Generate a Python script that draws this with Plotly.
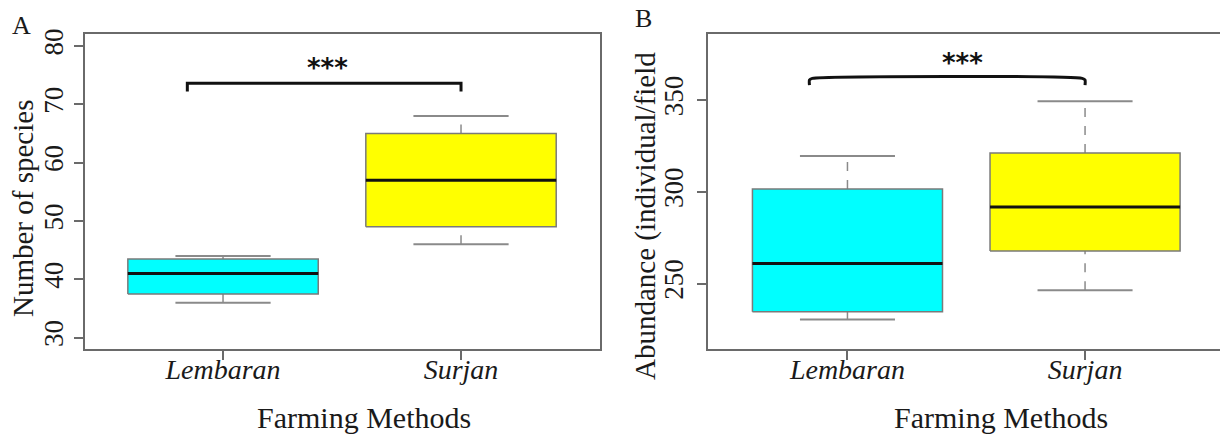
import plotly.graph_objects as go

# ---------------- data ----------------
categories = ["Lembaran", "Surjan"]

# Panel A: Number of species
a_lower = [36.0, 46.0]
a_q1 = [37.5, 49.0]
a_median = [41.0, 57.0]
a_q3 = [43.5, 65.0]
a_upper = [44.0, 68.0]
a_ticks = [30, 40, 50, 60, 70, 80]

# Panel B: Abundance (individual/field)
b_lower = [230.5, 246.4]
b_q1 = [234.7, 267.7]
b_median = [260.9, 291.7]
b_q3 = [301.5, 321.2]
b_upper = [319.5, 349.3]
b_ticks = [250, 300, 350]

signif_label = "***"

# ---------------- layout helpers ----------------
W, H = 1220, 434
def px(x): return x / W
def py(y): return 1 - y / H

BOX_HALF = 0.4
CAP_HALF = 0.2
fills = ["#00FFFF", "#FFFF00"]
SERIF = "Liberation Serif"
TXT = "#1a1a1a"

fig = go.Figure()

def add_boxes(xa, ya, lower, q1, med, q3, upper):
    pos = [1, 2]
    for i, p in enumerate(pos):
        # whiskers (dashed)
        fig.add_trace(go.Scatter(x=[p, p, None, p, p], y=[lower[i], q1[i], None, q3[i], upper[i]],
                                 mode="lines", line=dict(color="#8a8a8a", width=1.5, dash="dash"),
                                 xaxis=xa, yaxis=ya, showlegend=False, hoverinfo="skip"))
        # caps
        fig.add_trace(go.Scatter(x=[p - CAP_HALF, p + CAP_HALF, None, p - CAP_HALF, p + CAP_HALF],
                                 y=[lower[i], lower[i], None, upper[i], upper[i]],
                                 mode="lines", line=dict(color="#8a8a8a", width=2),
                                 xaxis=xa, yaxis=ya, showlegend=False, hoverinfo="skip"))
        # box body
        fig.add_trace(go.Scatter(x=[p - BOX_HALF, p + BOX_HALF, p + BOX_HALF, p - BOX_HALF, p - BOX_HALF],
                                 y=[q1[i], q1[i], q3[i], q3[i], q1[i]],
                                 mode="lines", fill="toself", fillcolor=fills[i],
                                 line=dict(color="#7a7a7a", width=1.5),
                                 xaxis=xa, yaxis=ya, showlegend=False, hoverinfo="skip"))
        # median
        fig.add_trace(go.Scatter(x=[p - BOX_HALF, p + BOX_HALF], y=[med[i], med[i]],
                                 mode="lines", line=dict(color="#111111", width=3),
                                 xaxis=xa, yaxis=ya, showlegend=False, hoverinfo="skip"))

add_boxes("x", "y", a_lower, a_q1, a_median, a_q3, a_upper)
add_boxes("x2", "y2", b_lower, b_q1, b_median, b_q3, b_upper)

# significance brackets
def add_bracket(xa, ya, x0, x1, ytop, ybot, smooth=False):
    if smooth:
        d = (ytop - ybot) * 0.25
        xs = [x0, x0, x0 + 0.012, x1 - 0.012, x1, x1]
        ys = [ybot, ytop - d, ytop, ytop, ytop - d, ybot]
        fig.add_trace(go.Scatter(x=xs, y=ys, mode="lines",
                                 line=dict(color="#111111", width=3, shape="spline", smoothing=0.6),
                                 xaxis=xa, yaxis=ya, showlegend=False, hoverinfo="skip"))
    else:
        fig.add_trace(go.Scatter(x=[x0, x0, x1, x1], y=[ybot, ytop, ytop, ybot], mode="lines",
                                 line=dict(color="#111111", width=3),
                                 xaxis=xa, yaxis=ya, showlegend=False, hoverinfo="skip"))

add_bracket("x", "y", 0.85, 2.0, 73.6, 72.2)
add_bracket("x2", "y2", 0.84, 2.0, 361.8, 358.2, smooth=True)

axis_common = dict(showline=True, linecolor="#6a6a6a", linewidth=1.5, ticks="outside",
                   ticklen=9, tickwidth=1.5, tickcolor="#6a6a6a", showgrid=False, zeroline=False,
                   automargin=False)
xtickfont = dict(family=SERIF, size=28, color=TXT, style="italic")
ytickfont = dict(family=SERIF, size=27, color=TXT)

fig.update_layout(
    width=W, height=H, margin=dict(l=0, r=0, t=0, b=0),
    paper_bgcolor="white", plot_bgcolor="white",
    xaxis=dict(domain=[px(85), px(600)], range=[0.42, 2.584], tickvals=[1, 2], ticktext=categories,
               tickfont=xtickfont, mirror=True, anchor="y", ticklabelstandoff=-15, **axis_common),
    yaxis=dict(domain=[py(349.3), py(34)], range=[28.0, 82.05], tickvals=a_ticks,
               tickangle=-90, tickfont=ytickfont, mirror=True, anchor="x", ticklabelstandoff=0,
               **axis_common),
    xaxis2=dict(domain=[px(708), 1.0], range=[0.413, 2.568], tickvals=[1, 2], ticktext=categories,
                tickfont=xtickfont, mirror=True, anchor="y2", ticklabelstandoff=-15, **axis_common),
    yaxis2=dict(domain=[py(349.3), py(34)], range=[214.2, 386.0], tickvals=b_ticks,
                tickangle=-90, tickfont=ytickfont, mirror=False, anchor="x2", ticklabelstandoff=3,
                **axis_common),
)

ann = []
star_font = dict(family="DejaVu Sans", size=26, color="#111111", weight="bold")
ann.append(dict(x=1.44, y=76.3, xref="x", yref="y", text=signif_label, showarrow=False,
                xanchor="center", yanchor="middle", font=star_font))
ann.append(dict(x=1.485, y=370.0, xref="x2", yref="y2", text=signif_label, showarrow=False,
                xanchor="center", yanchor="middle", font=star_font))

def text_ann(x, y, text, size, angle=0):
    return dict(x=px(x), y=py(y), xref="paper", yref="paper", text=text, showarrow=False,
                xanchor="center", yanchor="middle", textangle=angle,
                font=dict(family=SERIF, size=size, color=TXT))

# panel letters
ann.append(text_ann(21, 25, "A", 26))
ann.append(text_ann(643, 19, "B", 26))
# axis titles
ann.append(text_ann(364, 417, "Farming Methods", 30))
ann.append(text_ann(1001, 417, "Farming Methods", 30))
ann.append(text_ann(23, 209, "Number of species", 29, -90))
ann.append(text_ann(645, 216, "Abundance (individual/field", 29, -90))
fig.update_layout(annotations=ann)

fig.write_html("out.html", config={"displayModeBar": False},
               post_script="document.body.style.margin='0px';")
